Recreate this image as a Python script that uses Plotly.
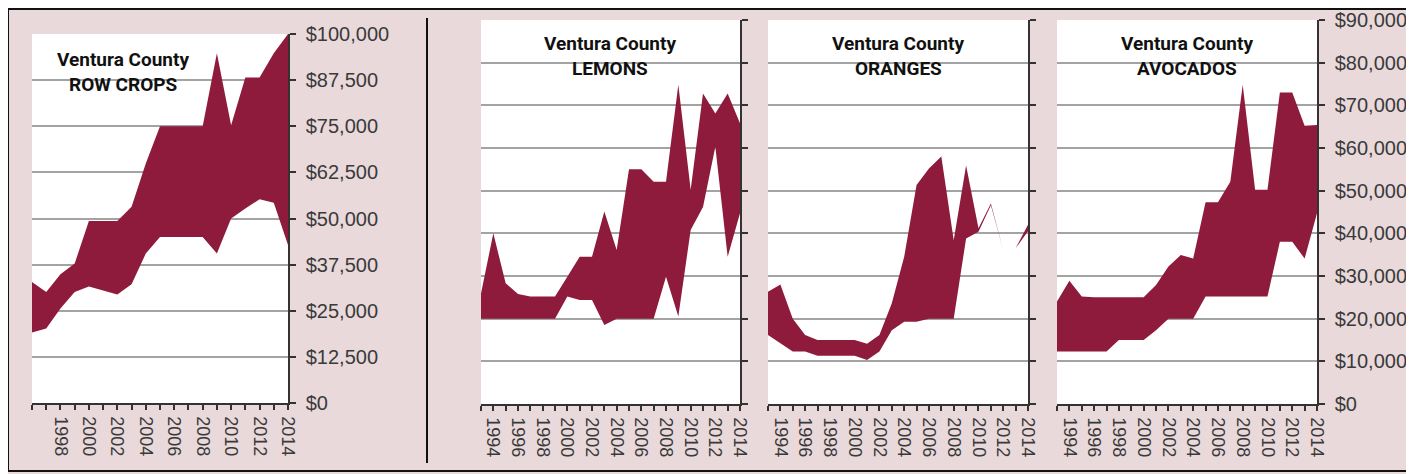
import plotly.graph_objects as go

# ---------------- data ----------------
rc_years = list(range(1996, 2015))
rc_top = [32800, 30100, 34900, 37800, 49300, 49300, 49300, 53200, 64900, 75000,
          75000, 75000, 75000, 94800, 75300, 88200, 88200, 94800, 100000]
rc_bot = [19100, 20200, 25600, 30100, 31600, 30600, 29400, 32200, 40500, 45000,
          45000, 45000, 45000, 40500, 50000, 52700, 55200, 54300, 42800]

years = list(range(1993, 2015))
lem_top = [25900, 40000, 28300, 25800, 25200, 25200, 25200, 29800, 34500, 34500, 45100,
           36100, 55000, 55000, 52100, 52100, 74800, 50200, 72800, 68100, 72800, 65800]
lem_bot = [20000, 20000, 20000, 20000, 20000, 20000, 20000, 25200, 24400, 24400, 18500,
           20000, 20000, 20000, 20000, 29800, 20500, 40800, 46200, 60300, 34500, 44700]
or_top = [26300, 28000, 20000, 16200, 15000, 15000, 15000, 15000, 14100, 16200, 23600,
          34500, 51300, 55200, 58000, 38400, 55900, 41200, 47000, 36100, 36500, 42000]
or_bot = [16200, 14200, 12300, 12300, 11300, 11300, 11300, 11300, 10300, 12300, 17300,
          19300, 19300, 20000, 20000, 20000, 38800, 40400, 46600, 36100, 36500, 40500]
av_top = [24000, 28900, 25200, 25000, 25000, 25000, 25000, 25000, 27900, 32200, 34900,
          34100, 47300, 47300, 52100, 74800, 50200, 50200, 73000, 73000, 65200, 65400]
av_bot = [12300, 12300, 12300, 12300, 12300, 15000, 15000, 15000, 17300, 20000, 20000,
          20000, 25200, 25200, 25200, 25200, 25200, 25200, 38000, 38000, 34100, 44700]

titles = ["ROW CROPS", "LEMONS", "ORANGES", "AVOCADOS"]

# ---------------- style ----------------
W, H = 1414, 474
OFF = 8  # page body margin: figure pixel = page pixel - 8
BG = "#E9D9DA"
FILL = "#8E1B3C"
AXC = "#333333"
GRID = "#A3A3A3"
TXT = "#3A3A3A"
TITLE_FONT = "Roboto, Liberation Sans, sans-serif"
TICK_FONT = "Liberation Sans, Arial, sans-serif"

def px_x(x):
    return (x - OFF) / W

def px_y(y):
    return 1 - (y - OFF) / H

# panel pixel boxes in page pixels: (x0, x1, ytop, ybot)
boxes = [(32, 288, 34, 403), (481, 740, 20, 404), (768, 1028, 20, 404), (1057, 1317, 20, 404)]
title_x = [123, 610, 898, 1187]
title_y1 = [59, 44, 44, 44]
title_gap = 25
title_box = [(47, 197, 40, 100), (538, 680, 27, 86), (824, 968, 27, 86), (1115, 1257, 27, 86)]

panels = [
    (rc_years, rc_top, rc_bot, [1996, 2014], 100000, 12500),
    (years, lem_top, lem_bot, [1993, 2014], 90000, 10000),
    (years, or_top, or_bot, [1993, 2014], 90000, 10000),
    (years, av_top, av_bot, [1993, 2014], 90000, 10000),
]

fig = go.Figure()
shapes = []
annotations = []

for i, (yrs, top, bot, xr, ymax, ystep) in enumerate(panels):
    n = "" if i == 0 else str(i + 1)
    xa, ya = "x" + n, "y" + n
    fig.add_trace(go.Scatter(x=yrs, y=bot, mode="lines", line=dict(width=0),
                             xaxis=xa, yaxis=ya, showlegend=False, hoverinfo="skip"))
    fig.add_trace(go.Scatter(x=yrs, y=top, mode="lines", line=dict(width=0),
                             fill="tonexty", fillcolor=FILL,
                             xaxis=xa, yaxis=ya, showlegend=False, hoverinfo="skip"))
    x0, x1, yt, yb = boxes[i]
    tickvals = list(range(xr[0], xr[1] + 1))
    if i == 0:
        ticktext = [str(v) if (v % 2 == 0 and v >= 1998) else "" for v in tickvals]
    else:
        ticktext = [str(v) if v % 2 == 0 else "" for v in tickvals]
    fig.layout["xaxis" + n] = dict(
        domain=[px_x(x0), px_x(x1)], range=xr, anchor=ya, automargin=False,
        tickmode="array", tickvals=tickvals, ticktext=ticktext,
        tickangle=90, ticks="outside", ticklen=5, tickwidth=1.5, tickcolor=AXC,
        showline=True, linecolor=AXC, linewidth=1.5, showgrid=False, zeroline=False,
        tickfont=dict(family=TICK_FONT, size=18, color=TXT), ticklabelstandoff=3,
    )
    fig.layout["yaxis" + n] = dict(
        domain=[px_y(yb), px_y(yt)], range=[0, ymax], anchor=xa, side="right",
        automargin=False,
        tickmode="linear", tick0=0, dtick=ystep, tickformat="$,.0f",
        ticks="outside", ticklen=6, tickwidth=1.5, tickcolor=AXC,
        showline=True, linecolor=AXC, linewidth=1.5,
        showgrid=True, gridcolor=GRID, gridwidth=1.5, zeroline=False,
        showticklabels=(i in (0, 3)),
        tickfont=dict(family=TICK_FONT, size=20, color=TXT), ticklabelstandoff=6,
    )
    bx0, bx1, by0, by1 = title_box[i]
    shapes.append(dict(type="rect", xref="paper", yref="paper", layer="between",
                       x0=px_x(bx0), x1=px_x(bx1), y0=px_y(by1), y1=px_y(by0),
                       fillcolor="white", line=dict(width=0)))
    for k, txt in enumerate(["Ventura County", titles[i]]):
        annotations.append(dict(
            xref="paper", yref="paper", x=px_x(title_x[i]), y=px_y(title_y1[i] + k * title_gap),
            xanchor="center", yanchor="middle", showarrow=False,
            text="<b>%s</b>" % txt,
            font=dict(family=TITLE_FONT, size=19, color="#111111"),
        ))

# outer border and divider
shapes.append(dict(type="rect", xref="paper", yref="paper", layer="above",
                   x0=px_x(8), x1=px_x(1409), y0=px_y(471), y1=px_y(9),
                   line=dict(color="#111111", width=2), fillcolor="rgba(0,0,0,0)"))
shapes.append(dict(type="line", xref="paper", yref="paper", layer="above",
                   x0=px_x(427), x1=px_x(427), y0=px_y(463), y1=px_y(18),
                   line=dict(color="#111111", width=2)))

fig.update_layout(
    width=W, height=H, margin=dict(l=0, r=0, t=0, b=0, autoexpand=False),
    paper_bgcolor=BG, plot_bgcolor="white",
    shapes=shapes, annotations=annotations, showlegend=False,
)

fig.write_html("out.html")
